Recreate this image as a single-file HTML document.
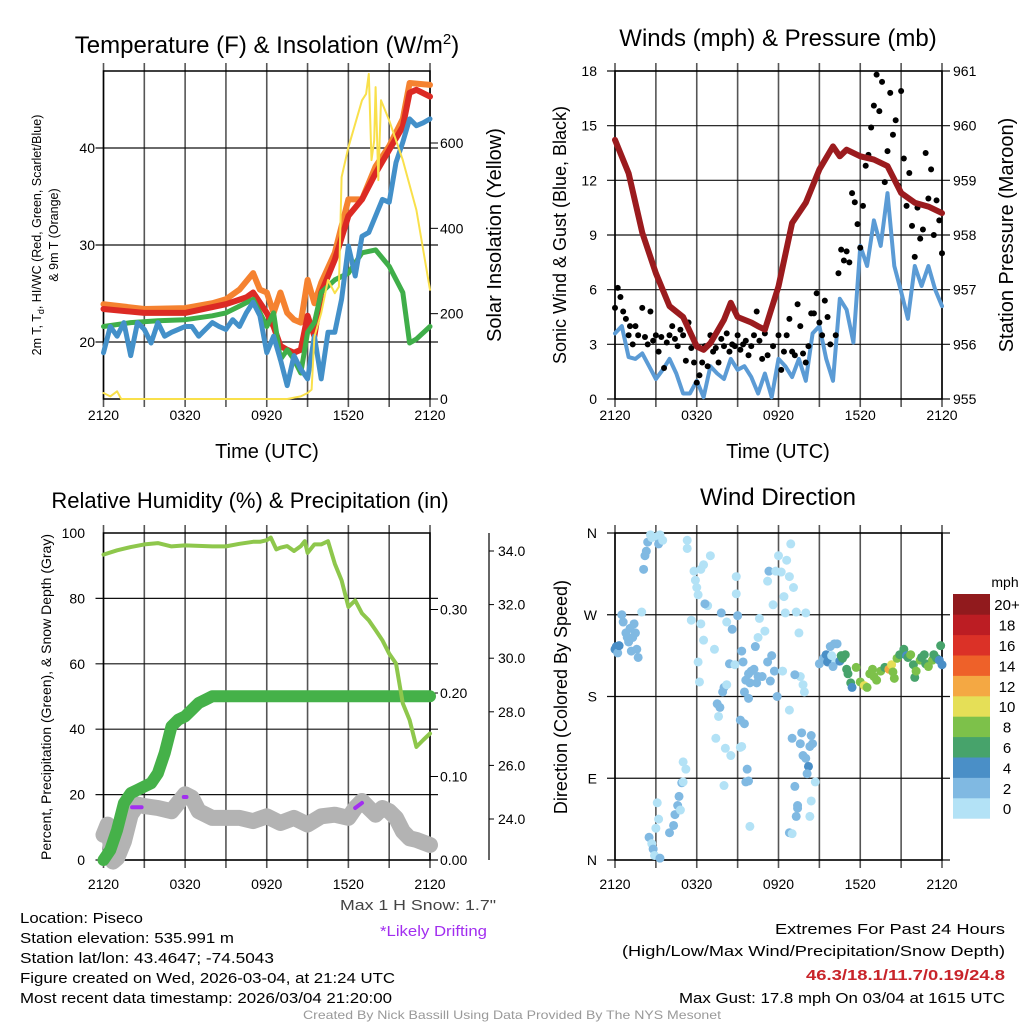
<!DOCTYPE html>
<html><head><meta charset="utf-8"><style>
html,body{margin:0;padding:0;background:#fff}
svg{display:block;font-family:"Liberation Sans",sans-serif}
</style></head><body>
<svg id="fig" width="1024" height="1024" viewBox="0 0 1024 1024" xmlns="http://www.w3.org/2000/svg">
<g id="layer"></g>
<g font-size="15" fill="#000">
<text x="20" y="923" textLength="123" lengthAdjust="spacingAndGlyphs">Location: Piseco</text>
<text x="20" y="943" textLength="214" lengthAdjust="spacingAndGlyphs">Station elevation: 535.991 m</text>
<text x="20" y="963" textLength="254" lengthAdjust="spacingAndGlyphs">Station lat/lon: 43.4647; -74.5043</text>
<text x="20" y="983" textLength="375" lengthAdjust="spacingAndGlyphs">Figure created on Wed, 2026-03-04, at 21:24 UTC</text>
<text x="20" y="1003" textLength="372" lengthAdjust="spacingAndGlyphs">Most recent data timestamp: 2026/03/04 21:20:00</text>
<text x="340" y="910" textLength="156" lengthAdjust="spacingAndGlyphs" fill="#444">Max 1 H Snow: 1.7"</text>
<text x="380" y="936" textLength="107" lengthAdjust="spacingAndGlyphs" fill="#a22ef0">*Likely Drifting</text>
<text x="775" y="934" textLength="230" lengthAdjust="spacingAndGlyphs">Extremes For Past 24 Hours</text>
<text x="622" y="956" textLength="383" lengthAdjust="spacingAndGlyphs">(High/Low/Max Wind/Precipitation/Snow Depth)</text>
<text x="806" y="980" textLength="199" lengthAdjust="spacingAndGlyphs" fill="#c8242a" font-weight="bold">46.3/18.1/11.7/0.19/24.8</text>
<text x="679" y="1003" textLength="326" lengthAdjust="spacingAndGlyphs">Max Gust: 17.8 mph On 03/04 at 1615 UTC</text>
<text x="303" y="1019" font-size="12" textLength="418" lengthAdjust="spacingAndGlyphs" fill="#999">Created By Nick Bassill Using Data Provided By The NYS Mesonet</text>
</g>
</svg>
<script>
// ===== shared axis data =====
const timeLabels = ["2120","0320","0920","1520","2120"];
// ===== Temperature panel =====
const tHours = [0,3,6,9,10.5,11,12,12.5,13,13.5,14,14.5,15,15.5,16,17,18,19,20,21,22,22.5,23,24];
const tempRed = [23.4,23.0,23.0,23.9,24.6,25.1,23.0,21.6,19.6,19.2,18.9,19.2,22.7,20.6,25.1,28.5,33.0,34.7,37.4,39.8,42.2,45.7,46.0,45.3];
const oHours = [0,3,6,8,9,10,11,11.5,12,12.5,13,13.5,14,14.5,15,15.5,16,17,18,19,20,21,22,22.5,24];
const temp9m = [23.9,23.4,23.5,24.0,24.4,25.4,27.1,25.4,25.1,23.0,25.1,23.0,22.3,22.0,26.4,24.0,26.1,29.2,34.7,34.7,38.1,40.2,43.0,46.7,46.5];
const dHours = [0,2,4,6,8,9,10,11,12,12.5,13,13.5,14,14.5,15,15.5,16,17,18,19,20,21,22,22.5,23,24];
const dewpoint = [21.6,22.0,22.2,22.3,22.7,23.0,23.7,24.4,21.6,23.0,18.2,19.2,18.2,16.8,21.0,22.0,25.1,26.4,27.1,29.2,29.5,27.8,25.1,19.9,20.3,21.6];
const wcValues = [18.9,21.6,20.6,22.0,18.6,22.0,21.3,19.9,22.0,20.6,21.0,21.3,21.6,21.6,20.6,21.3,22.0,21.6,21.3,22.3,21.6,23.0,24.1,22.7,18.9,20.6,18.2,15.5,18.6,17.2,16.2,20.6,16.2,21.0,21.0,24.4,29.9,26.8,30.9,31.3,33.0,34.7,34.4,38.5,40.6,43.0,42.3,42.6,43.0];
const sHours = [0,0.5,1,1.3,13.5,14.5,15,15.3,15.5,16,16.5,17,17.3,17.5,18,18.5,19,19.3,19.5,19.7,19.9,20,20.2,20.4,21,22,23,24];
const solar = [14,6,18,0,0,6,14,22,146,201,279,248,263,520,590,645,700,715,762,560,606,731,513,700,653,560,443,256];
const tempTicks = [20,30,40];
const solarTicks = [0,200,400,600];
// ===== Winds panel =====
const pHours = [0,1,2,3,4,5,6,6.5,7,8,8.5,9,10,10.5,11,12,13,14,15,16,16.5,17,18,19,20,21,22,23,24];
const pressure = [959.74,959.13,958.04,957.3,956.7,956.5,955.96,955.9,956.02,956.45,956.76,956.5,956.4,956.33,956.27,957.06,958.22,958.59,959.2,959.62,959.44,959.56,959.44,959.38,959.26,958.77,958.59,958.52,958.4];
const windSpeed = [3.6,4.0,2.3,2.2,2.5,1.8,1.1,1.6,2.2,1.4,0.3,0.3,1.0,0.1,1.8,1.4,1.1,2.2,1.6,1.8,1.2,0.3,1.4,0.1,2.2,1.8,1.2,2.2,1.0,3.6,4.0,2.2,1.0,5.5,4.9,3.1,8.4,7.3,9.8,8.4,11.3,7.3,5.9,4.4,7.3,6.2,7.3,6.0,5.1];
const gustHours = [0,0.2,0.4,0.6,0.8,1,1.1,1.3,1.5,1.7,2,2.2,2.4,2.6,2.8,3,3.2,3.4,3.6,3.8,4,4.2,4.4,4.6,4.8,5,5.2,5.4,5.6,5.8,6,6.2,6.4,6.6,6.8,7,7.2,7.4,7.6,7.8,8,8.2,8.4,8.6,8.8,9,9.2,9.4,9.6,9.8,10,10.2,10.4,10.6,10.8,11,11.2,11.6,12,12.2,12.4,12.6,12.8,13,13.2,13.4,13.6,13.8,14,14.2,14.4,14.6,14.8,15,15.2,15.4,15.6,15.8,16.2,16.4,16.6,16.8,17,17.2,17.4,17.6,17.8,18,18.2,18.4,18.6,18.8,19,19.2,19.4,19.6,19.8,20,20.2,20.4,20.6,20.8,21,21.2,21.4,21.6,21.8,22,22.2,22.4,22.6,22.8,23,23.2,23.4,23.6,23.8,24];
const gusts = [5,6.1,5.6,4.8,4.4,3.5,4.0,3.0,4.0,3.5,5.0,3.4,3.0,4.8,3.2,3.5,2.6,3.4,1.7,3.1,3.5,4.0,3.3,2.9,3.8,3.5,2.1,4.2,2.8,2.0,0.9,1.3,2.0,2.9,1.8,3.5,2.6,2.8,2.0,3.3,2.9,3.6,2.6,3.0,2.9,3.5,2.7,3.0,3.2,2.4,2.9,3.5,4.8,3.2,2.2,3.6,2.4,2.9,3.5,1.6,2.6,3.5,4.4,2.6,2.4,5.2,4.0,2.5,2.0,2.9,4.7,4.7,5.8,4.2,3.5,5.4,4.5,3.0,3.5,6.9,8.2,7.6,8.1,7.5,11.3,10.8,9.6,8.3,10.6,12.8,13.4,14.9,16.1,17.8,15.8,17.4,11.9,13.6,16.8,14.5,15.3,11.7,16.9,13.2,10.6,12.4,9.5,7.8,10.5,8.8,9.3,13.5,11.0,12.6,9.0,10.9,9.8,8.0];
const windTicks = [0,3,6,9,12,15,18];
const presTicks = [955,956,957,958,959,960,961];
// ===== Humidity panel =====
const rhHours = [0,1,2,3,4,5,6,8,9,10,11,11.5,12,12.3,12.7,13,13.5,14,14.5,14.8,15,15.5,16,16.5,17,17.5,18,18.5,19,19.5,20,20.5,21,21.5,22,22.5,23,23.5,24];
const rh = [93.4,94.7,95.7,96.5,96.9,95.9,96.2,95.9,95.9,96.7,97.3,97.3,97.8,98.6,95.0,95.5,96.0,94.5,96.0,97.5,93.9,96.5,96.5,97.5,90.6,85.5,77.4,79.4,75.4,73.3,70.3,67.2,63.1,60.1,47.9,42.8,34.6,36.7,38.7];
const prHours = [0,0.5,1,1.5,2,2.5,3,3.5,4,4.5,5,5.5,6,6.5,7,7.5,8,24];
const precip = [0,0.012,0.036,0.068,0.08,0.084,0.088,0.092,0.104,0.128,0.16,0.168,0.172,0.18,0.188,0.192,0.196,0.196];
const snHours = [0,0.3,0.7,1,1.5,2,2.5,3,4,5,6,6.5,7,8,9,10,11,12,13,14,15,16,17,18,18.5,19,19.5,20,20.5,21,21.5,22,22.5,23,24];
const snow = [23.41,23.79,22.41,22.54,23.16,24.16,24.54,24.48,24.41,24.29,24.92,24.79,24.29,24.04,24.04,24.04,23.92,24.10,23.85,24.04,23.79,24.10,24.16,24.04,24.41,24.67,24.41,24.16,24.41,24.29,24.04,23.54,23.28,23.22,23.03];
const driftHours = [[2.1,2.8],[5.9,6.1],[18.5,19.0]];
const driftStart = [24.44,24.82,24.41];
const driftEnd = [24.44,24.82,24.60];
const rhTicks = [0,20,40,60,80,100];
const precipTicks = [0,0.1,0.2,0.3];
const snowTicks = [24,26,28,30,32,34];
// ===== Wind direction panel =====
const dirHours = [0,0.1,0.2,0.3,0.5,0.6,0.8,0.9,1.0,1.1,1.2,1.3,1.4,1.5,1.6,1.7,1.96,2.1,2.2,2.3,2.4,2.6,2.7,3.1,3.3,3.2,3.5,2.5,2.7,2.8,2.9,3.3,3.0,3.2,3.1,4.0,4.3,4.4,4.6,4.7,4.8,4.9,5.0,5.2,5.0,5.3,5.3,5.8,5.9,6.0,6.1,6.3,6.5,6.8,7.0,6.6,5.6,6.3,6.5,6.1,7.3,6.2,7.7,7.6,7.4,7.5,7.9,8.0,8.2,7.8,8.2,8.6,8.4,8.8,8.1,8.5,8.0,8.9,8.9,9.0,9.3,9.4,9.5,9.6,9.8,9.9,9.5,9.2,9.8,9.3,9.2,9.7,9.8,9.6,9.9,10.0,10.2,10.4,10.5,10.8,10.3,10.5,10.6,11.0,11.2,11.3,11.6,11.8,11.2,11.5,11.7,11.9,11.4,12.0,12.2,12.4,12.5,12.6,12.9,12.8,13.1,13.3,13.5,13.6,13.2,12.3,13.8,13.9,12.8,14.0,13.0,13.6,13.8,14.0,14.2,14.5,14.4,13.7,14.3,14.1,13.2,13.4,13.4,13.3,12.8,13.0,14.4,14.3,14.7,15.0,15.3,15.5,15.6,15.8,16.1,16.3,15.9,16.2,16.0,16.5,16.6,16.9,16.7,17.0,17.1,17.3,17.4,17.7,18.0,18.3,18.5,18.7,18.9,19.0,19.2,19.5,19.8,20.1,20.3,20.5,20.4,20.7,20.9,21.2,21.4,21.5,21.7,21.9,22.0,22.1,22.4,22.5,22.7,22.8,23.0,23.3,23.4,23.6,23.8,23.9,24.0];
const dirDeg = [232,235,228,236,270,262,250,245,240,255,230,245,260,250,232,223,273,320,335,340,350,358,355,356,358,348,352,25,18,12,5,2,35,45,63,30,38,50,60,70,55,85,86,100,108,352,343,318,308,300,292,320,325,280,335,282,264,260,242,218,232,196,168,158,134,172,185,190,193,272,262,254,216,215,123,115,82,312,293,269,230,218,185,198,205,195,150,154,178,125,124,100,87,86,37,208,210,195,202,202,235,245,266,252,307,318,281,318,218,225,208,180,197,335,317,290,272,330,348,312,300,273,250,202,204,208,193,185,165,272,134,128,115,112,103,128,137,140,125,95,81,57,60,48,30,29,65,48,86,216,222,226,218,235,238,238,225,218,213,219,225,226,222,210,205,195,190,212,196,192,190,205,210,202,198,208,212,210,215,200,207,222,226,232,225,223,226,215,201,208,220,223,226,216,213,220,226,222,220,236,215];
const dirSpeed = [4,4,3,4,3,2,2,2,3,2,2,2,2,2,2,3,1,2,2,2,2,1,1,1,1,2,1,3,1,3,1,3,1,1,1,3,3,3,3,3,1,3,1,1,1,1,1,1,1,1,1,1,1,1,1,2,1,1,1,1,1,1,3,1,1,3,3,3,1,3,1,3,3,1,1,1,1,1,1,2,3,3,2,2,2,2,2,3,3,1,1,3,2,2,1,2,2,2,2,2,2,1,1,1,1,3,1,1,3,2,2,3,3,1,1,1,1,1,1,1,1,1,1,1,3,1,1,1,1,1,3,3,3,3,4,3,3,3,3,3,3,3,3,3,3,1,1,1,1,3,3,4,4,3,3,3,1,1,3,4,6,6,6,6,6,6,4,8,8,10,8,8,8,8,8,8,6,12,10,8,8,8,6,6,4,6,8,6,6,8,8,6,6,6,8,8,6,6,4,6,4];
const dirTicks = [0,90,180,270,360];
const dirTickLabels = ["N","E","S","W","N"];
const cbLabels = ["0","2","4","6","8","10","12","14","16","18","20+"];
const cbColors = ["#b3e2f6","#80b9e2","#4a8fc7","#47a36b","#7dc14a","#e5df57","#f4a843","#ee6129","#db3127","#bc1d23","#911a1d"];

const NS="http://www.w3.org/2000/svg";
const layer=document.getElementById('layer');
function mk(tag,attrs,parent){const e=document.createElementNS(NS,tag);for(const k in attrs)e.setAttribute(k,attrs[k]);(parent||layer).appendChild(e);return e;}
function txt(x,y,s,size,anchor,parent,extra){const t=mk('text',Object.assign({x:x,y:y,'font-size':size,'text-anchor':anchor||'middle'},extra||{}),parent);t.textContent=s;return t;}
function lin(a0,a1,p0,p1){return v=>p0+(v-a0)/(a1-a0)*(p1-p0);}
function pathOf(hs,vs,xs,ys){return hs.map((h,i)=>(i?'L':'M')+xs(h).toFixed(1)+' '+ys(vs[i]).toFixed(1)).join(' ');}
function halfHours(n){const a=[];for(let i=0;i<n;i++)a.push(i*0.5);return a;}

function frame(g,x0,x1,y0,y1,hTicksY,labOff){
  const xs=lin(0,24,x0,x1);
  for(let i=0;i<=8;i++){const x=xs(i*3);
    const l=mk('line',{x1:x,x2:x,y1:y0-8,y2:y1+8,stroke:'#555','stroke-width':1.6},g);
    
    }
  hTicksY.forEach(y=>{const l=mk('line',{x1:x0-8,x2:x1+8,y1:y,y2:y,stroke:'#111','stroke-width':1.2},g);
    
    });
  const r=mk('rect',{x:x0,y:y0,width:x1-x0,height:y1-y0,fill:'none',stroke:'#000','stroke-width':1.5},g);
  
  
  timeLabels.forEach((s,i)=>{const t=txt(xs(i*6),y1+labOff,s,14,'middle',g);
    
    });
  return xs;
}
function line(g,d,color,w,name,cap){const p=mk('path',{d:d,fill:'none',stroke:color,'stroke-width':w,'stroke-linejoin':'round','stroke-linecap':cap||'round'},g);
  
  return p;}
function rotText(x,y,s,size,g,name){const t=txt(x,y,s,size,'middle',g,{transform:'rotate(-90 '+x+' '+y+')'});
  
  return t;}

// ---------- Panel 1: temperature ----------
(function(){
  const g=mk('g',{});
  
  
  const x0=103.5,x1=430,y0=71,y1=399;
  const ys=lin(20,40,342,148), ysR=lin(0,600,399,143);
  const xs=frame(g,x0,x1,y0,y1,tempTicks.map(ys),21);
  tempTicks.forEach(v=>{const t=txt(95,ys(v)+5,String(v),14,'end',g);
    
    });
  solarTicks.forEach(v=>{const t=txt(440,ysR(v)+5,String(v),14,'start',g);
    
    
    mk('line',{x1:x1,x2:x1+8,y1:ysR(v),y2:ysR(v),stroke:'#000'},g);});
  line(g,pathOf(oHours,temp9m,xs,ys),'#f58230',6,'temp-9m-line');
  line(g,pathOf(tHours,tempRed,xs,ys),'#dc2a24',6,'temp-2m-line');
  line(g,pathOf(dHours,dewpoint,xs,ys),'#3fae49',5,'dewpoint-line');
  line(g,pathOf(halfHours(wcValues.length),wcValues,xs,ys),'#4390c9',5,'windchill-line');
  line(g,pathOf(sHours,solar,xs,ysR),'#f9e04b',2,'solar-line');
  const t=txt(267,53,'',24,'middle',g);t.innerHTML='Temperature (F) &amp; Insolation (W/m<tspan dy="-9" font-size="15">2</tspan><tspan dy="9">)</tspan>';
  
  
  const xt=txt(267,458,'Time (UTC)',20,'middle',g);
  
  
  const a=txt(0,0,'',12.5,'middle',g,{transform:'translate(41 235) rotate(-90)'});
  a.innerHTML='2m T, T<tspan dy="3" font-size="9">d</tspan><tspan dy="-3">, HI/WC (Red, Green, Scarlet/Blue)</tspan>';
  
  
  rotText(58,235,'& 9m T (Orange)',12.5,g,'temp-y-axis-title-2');
  rotText(501,235,'Solar Insolation (Yellow)',20,g,'solar-y-axis-title');
})();

// ---------- Panel 2: winds ----------
(function(){
  const g=mk('g',{});
  
  
  const x0=615,x1=942,y0=71,y1=399;
  const ys=lin(0,18,399,71), ysR=lin(955,961,399,71);
  const xs=frame(g,x0,x1,y0,y1,windTicks.map(ys),21);
  windTicks.forEach(v=>{const t=txt(597,ys(v)+5,String(v),14,'end',g);
    
    });
  presTicks.forEach(v=>{const t=txt(953,ysR(v)+5,String(v),14,'start',g);
    
    });
  line(g,pathOf(halfHours(windSpeed.length),windSpeed,xs,ys),'#5b9bd5',4,'wind-speed-line');
  gustHours.forEach((h,i)=>{const c=mk('circle',{cx:xs(h),cy:ys(gusts[i]),r:3,fill:'#000'},g);
    
    });
  line(g,pathOf(pHours,pressure,xs,ysR),'#9b1b1e',6,'pressure-line');
  const t=txt(778,46,'Winds (mph) & Pressure (mb)',24,'middle',g);
  
  
  const xt=txt(778,458,'Time (UTC)',20,'middle',g);
  
  
  rotText(566,235,'Sonic Wind & Gust (Blue, Black)',18,g,'wind-y-axis-title');
  rotText(1013,235,'Station Pressure (Maroon)',20,g,'pressure-y-axis-title');
})();

// ---------- Panel 3: humidity ----------
(function(){
  const g=mk('g',{});
  
  
  const x0=103.5,x1=430,y0=533,y1=860;
  const ys=lin(0,100,860,533), ysP=lin(0,0.2,860,693), ysS=lin(24,34,819,551);
  const xs=frame(g,x0,x1,y0,y1,rhTicks.slice(1,5).map(ys).concat([ys(0)]),29);
  rhTicks.forEach(v=>{const t=txt(85,ys(v)+5,String(v),14,'end',g);
    
    });
  precipTicks.forEach(v=>{const t=txt(440,ysP(v)+5,v.toFixed(2),14,'start',g);
    
    
    mk('line',{x1:x1,x2:x1+8,y1:ysP(v),y2:ysP(v),stroke:'#000'},g);});
  mk('line',{x1:489,x2:489,y1:533,y2:860,stroke:'#000','stroke-width':1.2},g);
  snowTicks.forEach(v=>{const t=txt(498,ysS(v)+5,v.toFixed(1),14,'start',g);
    
    
    mk('line',{x1:489,x2:494,y1:ysS(v),y2:ysS(v),stroke:'#000'},g);});
  line(g,pathOf(snHours,snow,xs,ysS),'#b3b3b3',16,'snow-depth-line');
  driftHours.forEach((hh,i)=>{line(g,'M'+xs(hh[0])+' '+ysS(driftStart[i])+' L'+xs(hh[1])+' '+ysS(driftEnd[i]),'#a22ef0',4,'drift-segment');});
  line(g,pathOf(prHours,precip,xs,ysP),'#45b149',12,'precip-line');
  line(g,pathOf(rhHours,rh,xs,ys),'#8ec74c',4,'rh-line');
  const t=txt(250,508,'Relative Humidity (%) & Precipitation (in)',22,'middle',g);
  
  
  rotText(51,697,'Percent, Precipitation (Green), & Snow Depth (Gray)',14,g,'humidity-y-axis-title');
})();

// ---------- Panel 4: wind direction ----------
(function(){
  const g=mk('g',{});
  
  
  const x0=615,x1=942,y0=533,y1=860;
  const ys=lin(0,360,860,533);
  const xs=frame(g,x0,x1,y0,y1,dirTicks.map(ys),29);
  dirTicks.forEach((v,i)=>{const t=txt(597,ys(v)+5,dirTickLabels[i],14,'end',g);
    
    });
  dirHours.forEach((h,i)=>{const ci=Math.min(10,Math.floor(dirSpeed[i]/2));
    const c=mk('circle',{cx:xs(h),cy:ys(dirDeg[i]),r:4.5,fill:cbColors[ci]},g);
    
    });
  const cb=mk('g',{},g);
  
  
  const bh=20.4;
  cbColors.forEach((c,i)=>{const y=594+(10-i)*bh;
    const r=mk('rect',{x:953,y:y,width:37,height:bh+0.3,fill:c},cb);
    
    
    const t=txt(1007,y+bh/2+6,cbLabels[i],15,'middle',cb);
    
    });
  const u=txt(1005,587,'mph',14,'middle',cb);
  
  
  const t=txt(778,505,'Wind Direction',24,'middle',g);
  
  
  rotText(567,697,'Direction (Colored By Speed)',18,g,'direction-y-axis-title');
})();
</script>
</body></html>
